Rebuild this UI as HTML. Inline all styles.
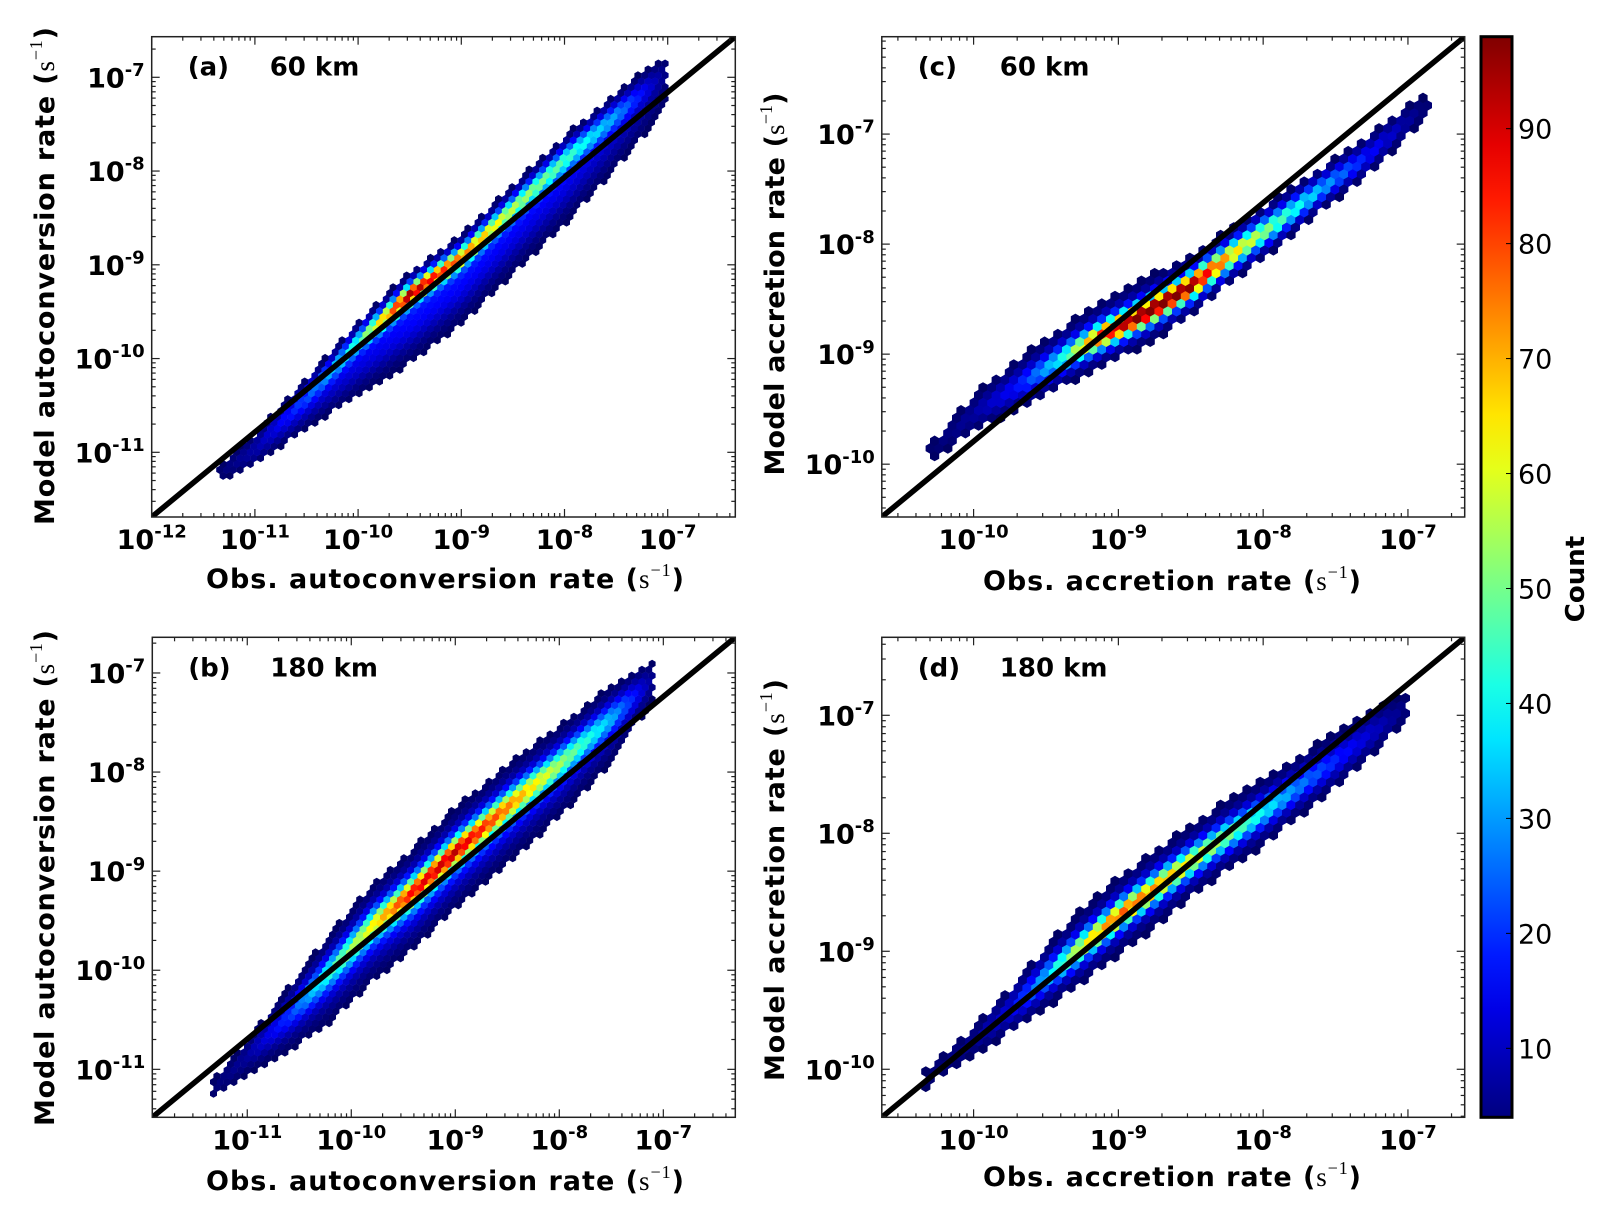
<!DOCTYPE html>
<html><head><meta charset="utf-8"><style>
html,body{margin:0;padding:0;background:#fff;}
svg{display:block;}
text{font-family:"DejaVu Sans","Liberation Sans",sans-serif;}
</style></head><body>
<svg id="fig" width="1612" height="1217" viewBox="0 0 1612 1217" xmlns="http://www.w3.org/2000/svg">
<defs>
<linearGradient id="jetgrad" x1="0" y1="1" x2="0" y2="0"></linearGradient>
<clipPath id="clip-a"><rect x="151.7" y="36.7" width="583.6" height="480.3"/></clipPath>
<clipPath id="clip-b"><rect x="152.3" y="637.3" width="583" height="480"/></clipPath>
<clipPath id="clip-c"><rect x="881.8" y="36.7" width="582.9" height="480.3"/></clipPath>
<clipPath id="clip-d"><rect x="881.8" y="637.3" width="582.9" height="480"/></clipPath>
</defs>
</svg>
<script>
// ---------- data (log10 rates, counts) ----------
const aKnotX   = [-11.35,-11.0,-10.5,-10.0,-9.5,-9.0,-8.5,-8.0,-7.5,-7.0];
const aRidgeY  = [-11.2,-10.92,-10.4,-9.82,-9.32,-8.92,-8.4,-7.88,-7.4,-6.92];
const aRidgeW  = [0.06,0.07,0.08,0.08,0.08,0.08,0.085,0.09,0.09,0.1];
const aRidgePk = [1.5,5,20,40,90,70,50,40,25,3];
const aBroadY  = [-11.25,-11.02,-10.55,-10.05,-9.6,-9.18,-8.65,-8.13,-7.6,-7.15];
const aBroadW  = [0.05,0.07,0.1,0.16,0.2,0.2,0.2,0.2,0.18,0.12];
const aBroadPk = [1.5,5,9,13,16,16,15,14,10,2];

const bKnotX   = [-11.35,-11.0,-10.6,-10.2,-9.8,-9.4,-9.0,-8.5,-8.0,-7.5,-7.1];
const bRidgeY  = [-11.2,-10.85,-10.45,-10.0,-9.55,-9.2,-8.8,-8.35,-7.92,-7.45,-7.05];
const bRidgeW  = [0.06,0.08,0.1,0.1,0.1,0.1,0.1,0.1,0.1,0.1,0.1];
const bRidgePk = [1.5,4,12,30,45,65,70,55,38,22,3];
const bBroadY  = [-11.25,-10.9,-10.5,-10.07,-9.62,-9.27,-8.87,-8.42,-7.99,-7.52,-7.1];
const bBroadW  = [0.06,0.1,0.16,0.2,0.21,0.21,0.21,0.21,0.2,0.18,0.12];
const bBroadPk = [1.5,3,9,16,20,24,24,22,18,12,2];

const cKnotX   = [-10.3,-10.0,-9.7,-9.4,-9.1,-8.8,-8.5,-8.2,-7.9,-7.6,-7.3,-7.0,-6.85];
const cRidgeY  = [-9.9,-9.55,-9.3,-9.05,-8.82,-8.62,-8.38,-8.08,-7.8,-7.5,-7.22,-6.88,-6.72];
const cRidgeW  = [0.06,0.07,0.08,0.08,0.08,0.08,0.08,0.08,0.08,0.07,0.07,0.07,0.06];
const cRidgePk = [1,3,10,30,75,92,85,55,38,25,12,4,1];
const cBroadY  = [-9.88,-9.53,-9.28,-9.03,-8.8,-8.6,-8.38,-8.08,-7.8,-7.5,-7.22,-6.88,-6.72];
const cBroadW  = [0.06,0.1,0.12,0.13,0.14,0.14,0.12,0.11,0.1,0.09,0.09,0.08,0.06];
const cBroadPk = [1.5,4,7,10,12,14,14,12,10,8,6,3,1.5];

const dKnotX   = [-10.35,-10.0,-9.75,-9.5,-9.25,-9.0,-8.75,-8.5,-8.25,-8.0,-7.75,-7.5,-7.25,-7.0];
const dRidgeY  = [-10.1,-9.76,-9.5,-9.22,-8.96,-8.7,-8.47,-8.24,-8.02,-7.82,-7.6,-7.38,-7.15,-6.92];
const dRidgeW  = [0.06,0.07,0.08,0.08,0.08,0.08,0.08,0.08,0.08,0.08,0.08,0.08,0.08,0.07];
const dRidgePk = [1,3,8,25,50,65,60,50,40,30,20,13,7,2];
const dBroadY  = [-10.1,-9.76,-9.5,-9.22,-8.96,-8.7,-8.47,-8.24,-8.02,-7.82,-7.6,-7.38,-7.15,-6.92];
const dBroadW  = [0.05,0.07,0.1,0.13,0.15,0.15,0.15,0.14,0.14,0.14,0.13,0.13,0.12,0.08];
const dBroadPk = [1.5,2.5,5,9,12,14,14,13,12,10,8,6,4,1.5];

const aXTicks = [-12,-11,-10,-9,-8,-7];
const aYTicks = [-11,-10,-9,-8,-7];
const bXTicks = [-11,-10,-9,-8,-7];
const bYTicks = [-11,-10,-9,-8,-7];
const cXTicks = [-10,-9,-8,-7];
const cYTicks = [-10,-9,-8,-7];
const dXTicks = [-10,-9,-8,-7];
const dYTicks = [-10,-9,-8,-7];

const cbarTicks = [10,20,30,40,50,60,70,80,90];
const cbarMin = 4, cbarMax = 98;

// ---------- helpers ----------
const NS = "http://www.w3.org/2000/svg";
const svg = document.getElementById('fig');
function mk(tag, attrs, parent){ const e=document.createElementNS(NS,tag); for(const k in attrs) e.setAttribute(k,attrs[k]); (parent||svg).appendChild(e); return e; }
function clamp(v){return Math.max(0,Math.min(1,v));}
function jet(t){ const r=clamp(1.5-Math.abs(4*t-3)), g=clamp(1.5-Math.abs(4*t-2)), b=clamp(1.5-Math.abs(4*t-1));
  return 'rgb('+Math.round(r*255)+','+Math.round(g*255)+','+Math.round(b*255)+')'; }
function interp(xs, ys, x){ if(x<xs[0]||x>xs[xs.length-1]) return null;
  for(let i=0;i<xs.length-1;i++){ if(x<=xs[i+1]){ const f=(x-xs[i])/(xs[i+1]-xs[i]); return ys[i]+f*(ys[i+1]-ys[i]); } } return ys[ys.length-1]; }

const panels = [
 {id:'a', px0:151.7, px1:735.3, py0:517, py1:36.7, x0:-12, x1:-6.345, y0:-11.69, y1:-6.567, hw:6.8,
  kx:aKnotX, ry:aRidgeY, rw:aRidgeW, rp:aRidgePk, by:aBroadY, bw:aBroadW, bp:aBroadPk, xt:aXTicks, yt:aYTicks,
  label:'(a)', dist:'60 km', ylab:'Model autoconversion  rate', xlab:'Obs. autoconversion  rate', ylx:45, yly:276, xlx:445, xly:588, ylen:498, xlen:478},
 {id:'b', px0:152.3, px1:735.3, py0:1117.3, py1:637.3, x0:-11.913, x1:-6.308, y0:-11.484, y1:-6.64, hw:6.8,
  kx:bKnotX, ry:bRidgeY, rw:bRidgeW, rp:bRidgePk, by:bBroadY, bw:bBroadW, bp:bBroadPk, xt:bXTicks, yt:bYTicks,
  label:'(b)', dist:'180 km', ylab:'Model autoconversion  rate', xlab:'Obs. autoconversion  rate', ylx:45, yly:878, xlx:445, xly:1190, ylen:496, xlen:478},
 {id:'c', px0:881.8, px1:1464.7, py0:517, py1:36.7, x0:-10.634, x1:-6.608, y0:-10.48, y1:-6.115, hw:8.8,
  kx:cKnotX, ry:cRidgeY, rw:cRidgeW, rp:cRidgePk, by:cBroadY, bw:cBroadW, bp:cBroadPk, xt:cXTicks, yt:cYTicks,
  label:'(c)', dist:'60 km', ylab:'Model accretion rate', xlab:'Obs.  accretion rate', ylx:775, yly:284, xlx:1172, xly:590, ylen:383, xlen:378},
 {id:'d', px0:881.8, px1:1464.7, py0:1117.3, py1:637.3, x0:-10.634, x1:-6.608, y0:-10.407, y1:-6.339, hw:8.8,
  kx:dKnotX, ry:dRidgeY, rw:dRidgeW, rp:dRidgePk, by:dBroadY, bw:dBroadW, bp:dBroadPk, xt:dXTicks, yt:dYTicks,
  label:'(d)', dist:'180 km', ylab:'Model accretion rate', xlab:'Obs.  accretion rate', ylx:775, yly:880, xlx:1172, xly:1186, ylen:402, xlen:378}
];

function countAt(p, x, y){
  const ry=interp(p.kx,p.ry,x); if(ry===null) return 0;
  const rw=interp(p.kx,p.rw,x), rp=interp(p.kx,p.rp,x), by=interp(p.kx,p.by,x), bw=interp(p.kx,p.bw,x), bp=interp(p.kx,p.bp,x);
  return rp*Math.exp(-0.5*Math.pow((y-ry)/rw,2)) + bp*Math.exp(-0.5*Math.pow((y-by)/bw,2));
}

function sup(parent, base, exp, size){
  const t1=mk('tspan',{},parent); t1.textContent=base;
  const t2=mk('tspan',{'font-size':Math.round(size*0.68),dy:-size*0.42},parent); t2.textContent=exp;
}

panels.forEach(p=>{
  const sx=v=>p.px0+(v-p.x0)/(p.x1-p.x0)*(p.px1-p.px0);
  const sy=v=>p.py0+(v-p.y0)/(p.y1-p.y0)*(p.py1-p.py0);
  const ix=px=>p.x0+(px-p.px0)/(p.px1-p.px0)*(p.x1-p.x0);
  const iy=py=>p.y0+(py-p.py0)/(p.py1-p.py0)*(p.y1-p.y0);
  const g=mk('g',{'clip-path':'url(#clip-'+p.id+')'});
  
  
  const w=p.hw, r=w/Math.sqrt(3)*1.04, rowH=w*0.866;
  let row=0;
  for(let cy=p.py0; cy>p.py1-rowH; cy-=rowH,row++){
    for(let cx=p.px0+(row%2?w/2:0); cx<p.px1+w; cx+=w){
      const c=countAt(p, ix(cx), iy(cy));
      if(c<1.2) continue;
      let pts=[]; for(let k=0;k<6;k++){const ang=Math.PI/6+k*Math.PI/3; pts.push((cx+r*Math.cos(ang)).toFixed(1)+','+(cy+r*Math.sin(ang)).toFixed(1));}
      const h=mk('polygon',{points:pts.join(' '),fill:jet((Math.min(c,cbarMax)-cbarMin)/(cbarMax-cbarMin))},g);
      
      
    }
  }
  const ln=mk('line',{x1:p.px0,y1:p.py0,x2:p.px1,y2:p.py1,stroke:'#000','stroke-width':5.5},g);
  
  
  const fr=mk('rect',{x:p.px0,y:p.py1,width:p.px1-p.px0,height:p.py0-p.py1,fill:'none',stroke:'#222','stroke-width':1.5});
  
  
  const tg=mk('g',{stroke:'#222','stroke-width':1.2});
  
  
  for(let e=Math.floor(p.x0);e<=Math.ceil(p.x1);e++){
    for(let m=1;m<10;m++){ const v=e+Math.log10(m); if(v<p.x0||v>p.x1) continue; const X=sx(v), L=m===1?8:4;
      mk('line',{x1:X,y1:p.py0,x2:X,y2:p.py0-L},tg); mk('line',{x1:X,y1:p.py1,x2:X,y2:p.py1+L},tg);}
  }
  for(let e=Math.floor(p.y0);e<=Math.ceil(p.y1);e++){
    for(let m=1;m<10;m++){ const v=e+Math.log10(m); if(v<p.y0||v>p.y1) continue; const Y=sy(v), L=m===1?8:4;
      mk('line',{x1:p.px0,y1:Y,x2:p.px0+L,y2:Y},tg); mk('line',{x1:p.px1,y1:Y,x2:p.px1-L,y2:Y},tg);}
  }
  p.xt.forEach(v=>{ const t=mk('text',{x:sx(v),y:p.py0+32,'text-anchor':'middle','font-size':27,'font-weight':'bold',fill:'#000'});
    
    
    sup(t,'10',String(v),27); });
  p.yt.forEach(v=>{ const t=mk('text',{x:p.px0-7,y:sy(v)+10,'text-anchor':'end','font-size':27,'font-weight':'bold',fill:'#000'});
    
    
    sup(t,'10',String(v),27); });
  const pl=mk('text',{x:p.px0+36,y:p.py1+39,'font-size':26,'font-weight':'bold'}); pl.textContent=p.label;
  
  
  const pd=mk('text',{x:p.px0+118,y:p.py1+39,'font-size':26,'font-weight':'bold'}); pd.textContent=p.dist;
  
  
  function unitLabel(t,name){
    const a=mk('tspan',{},t); a.textContent=name+' (';
    const s=mk('tspan',{'font-family':'Liberation Serif, serif','font-weight':'normal'},t); s.textContent='s';
    const e=mk('tspan',{'font-family':'Liberation Serif, serif','font-weight':'normal','font-size':18,dy:-12},t); e.textContent='−1';
    const c=mk('tspan',{dy:12},t); c.textContent=')';
  }
  const yl=mk('text',{x:0,y:0,'font-size':27,'font-weight':'bold','text-anchor':'middle',textLength:p.ylen,lengthAdjust:'spacing',transform:'translate('+(p.ylx+9)+','+p.yly+') rotate(-90)'});
  
  
  unitLabel(yl,p.ylab);
  const xl=mk('text',{x:p.xlx,y:p.xly,'font-size':27,'font-weight':'bold','text-anchor':'middle',textLength:p.xlen,lengthAdjust:'spacing'});
  
  
  unitLabel(xl,p.xlab);
});

// ---------- colorbar ----------
const grad=document.getElementById('jetgrad');
for(let i=0;i<=20;i++){ mk('stop',{offset:(i/20),'stop-color':jet(i/20)},grad); }
const cbX=1481, cbW=31, cbTop=36.7, cbBot=1117.3;
const cbY=v=>cbBot-(v-cbarMin)/(cbarMax-cbarMin)*(cbBot-cbTop);
const cb=mk('rect',{x:cbX,y:cbTop,width:cbW,height:cbBot-cbTop,fill:'url(#jetgrad)',stroke:'#000','stroke-width':3});


cbarTicks.forEach(v=>{
  const y=cbY(v);
  mk('line',{x1:cbX+cbW-6,y1:y,x2:cbX+cbW,y2:y,stroke:'#000','stroke-width':1});
  const t=mk('text',{x:1518,y:y+10,'font-size':27,fill:'#000'}); t.textContent=String(v);
  
  
});
const cl=mk('text',{x:0,y:0,'font-size':26,'font-weight':'bold','text-anchor':'middle',transform:'translate(1584,579) rotate(-90)'});
cl.textContent='Count';


</script>
</body></html>
